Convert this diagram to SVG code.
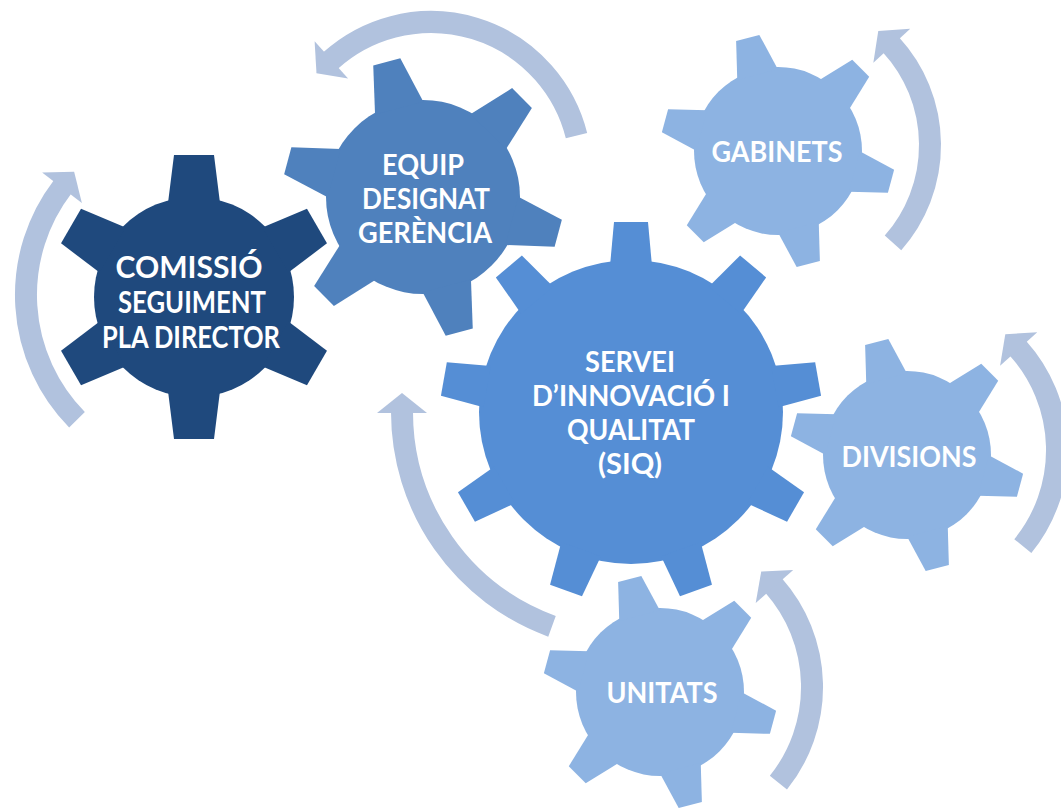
<svg xmlns="http://www.w3.org/2000/svg" xmlns:xlink="http://www.w3.org/1999/xlink" width="1061" height="810" viewBox="0 0 1061 810">
<style>
.arc{fill:none;stroke:#B1C2DE;stroke-width:22;stroke-linecap:butt;marker-end:url(#head)}
.lbl{font-family:Lato,"Open Sans","Liberation Sans",sans-serif;font-weight:700;fill:#FFFFFF;text-anchor:middle}
.big{font-size:31px}
.mid{font-size:28px}
.g-dark{fill:#1F497D}
.g-equip{fill:#4F81BD}
.g-siq{fill:#558ED5}
.g-light{fill:#8DB3E2}
</style>
<defs>
<marker id="head" markerUnits="userSpaceOnUse" markerWidth="30" markerHeight="60" refX="0" refY="0" orient="auto" overflow="visible">
<path d="M-1,-25 L19,0 L-1,25 Z" fill="#B1C2DE"/>
</marker>
<polygon id="tooth-c" points="-26,-94 -20,-142 20,-142 26,-94"/>
<polygon id="tooth-e" points="-25,-92 -14,-140 14,-140 25,-92"/>
<polygon id="tooth-s" points="-21,-79 -12,-117 12,-117 21,-79"/>
<polygon id="tooth-q" points="-21,-146 -17,-190 17,-190 21,-146"/>
</defs>
<rect width="1061" height="810" fill="#FFFFFF"/>

<g id="connectors">
<path class="arc" d="M77,419.8 A178,178 0 0 1 62.6,186.9"/>
<path class="arc" d="M576.5,135.7 A150,150 0 0 0 330.6,60.5"/>
<path class="arc" d="M893,242.9 A148,148 0 0 0 891.1,45"/>
<path class="arc" d="M1022.8,546.1 A152,152 0 0 0 1018,348.3"/>
<path class="arc" d="M552,626.3 A228,228 0 0 1 402,412"/>
<path class="arc" d="M778.4,782.7 A153,153 0 0 0 773.8,585.8"/>
</g>

<g id="comissio" class="g-dark">
<g transform="translate(194,297)">
<circle r="100"/>
<use xlink:href="#tooth-c" transform="rotate(0)"/>
<use xlink:href="#tooth-c" transform="rotate(60)"/>
<use xlink:href="#tooth-c" transform="rotate(120)"/>
<use xlink:href="#tooth-c" transform="rotate(180)"/>
<use xlink:href="#tooth-c" transform="rotate(240)"/>
<use xlink:href="#tooth-c" transform="rotate(300)"/>
</g>
<text class="lbl big" x="189" y="278" textLength="147" lengthAdjust="spacingAndGlyphs">COMISSIÓ</text>
<text class="lbl big" x="192" y="313" textLength="148" lengthAdjust="spacingAndGlyphs">SEGUIMENT</text>
<text class="lbl big" x="191" y="348" textLength="178" lengthAdjust="spacingAndGlyphs">PLA DIRECTOR</text>
</g>

<g id="equip" class="g-equip">
<g transform="translate(423,197)">
<circle r="97"/>
<use xlink:href="#tooth-e" transform="rotate(-15)"/>
<use xlink:href="#tooth-e" transform="rotate(45)"/>
<use xlink:href="#tooth-e" transform="rotate(105)"/>
<use xlink:href="#tooth-e" transform="rotate(165)"/>
<use xlink:href="#tooth-e" transform="rotate(225)"/>
<use xlink:href="#tooth-e" transform="rotate(285)"/>
</g>
<text class="lbl mid" x="423" y="175" textLength="82" lengthAdjust="spacingAndGlyphs">EQUIP</text>
<text class="lbl mid" x="426" y="209" textLength="128" lengthAdjust="spacingAndGlyphs">DESIGNAT</text>
<text class="lbl mid" x="425" y="243" textLength="134" lengthAdjust="spacingAndGlyphs">GERÈNCIA</text>
</g>

<g id="gabinets" class="g-light">
<g transform="translate(778,151)">
<circle r="84"/>
<use xlink:href="#tooth-s" transform="rotate(-15)"/>
<use xlink:href="#tooth-s" transform="rotate(45)"/>
<use xlink:href="#tooth-s" transform="rotate(105)"/>
<use xlink:href="#tooth-s" transform="rotate(165)"/>
<use xlink:href="#tooth-s" transform="rotate(225)"/>
<use xlink:href="#tooth-s" transform="rotate(285)"/>
</g>
<text class="lbl mid" x="777" y="162" textLength="131" lengthAdjust="spacingAndGlyphs">GABINETS</text>
</g>

<g id="divisions" class="g-light">
<g transform="translate(907,455)">
<circle r="84"/>
<use xlink:href="#tooth-s" transform="rotate(-15)"/>
<use xlink:href="#tooth-s" transform="rotate(45)"/>
<use xlink:href="#tooth-s" transform="rotate(105)"/>
<use xlink:href="#tooth-s" transform="rotate(165)"/>
<use xlink:href="#tooth-s" transform="rotate(225)"/>
<use xlink:href="#tooth-s" transform="rotate(285)"/>
</g>
<text class="lbl mid" x="909" y="467" textLength="135" lengthAdjust="spacingAndGlyphs">DIVISIONS</text>
</g>

<g id="unitats" class="g-light">
<g transform="translate(660,692)">
<circle r="84"/>
<use xlink:href="#tooth-s" transform="rotate(-15)"/>
<use xlink:href="#tooth-s" transform="rotate(45)"/>
<use xlink:href="#tooth-s" transform="rotate(105)"/>
<use xlink:href="#tooth-s" transform="rotate(165)"/>
<use xlink:href="#tooth-s" transform="rotate(225)"/>
<use xlink:href="#tooth-s" transform="rotate(285)"/>
</g>
<text class="lbl mid" x="662" y="703" textLength="111" lengthAdjust="spacingAndGlyphs">UNITATS</text>
</g>

<g id="siq" class="g-siq">
<g transform="translate(631,412)">
<circle r="152"/>
<use xlink:href="#tooth-q" transform="rotate(0)"/>
<use xlink:href="#tooth-q" transform="rotate(40)"/>
<use xlink:href="#tooth-q" transform="rotate(80)"/>
<use xlink:href="#tooth-q" transform="rotate(120)"/>
<use xlink:href="#tooth-q" transform="rotate(160)"/>
<use xlink:href="#tooth-q" transform="rotate(200)"/>
<use xlink:href="#tooth-q" transform="rotate(240)"/>
<use xlink:href="#tooth-q" transform="rotate(280)"/>
<use xlink:href="#tooth-q" transform="rotate(320)"/>
</g>
<text class="lbl mid" x="630" y="372" textLength="90" lengthAdjust="spacingAndGlyphs">SERVEI</text>
<text class="lbl mid" x="631" y="406" textLength="198" lengthAdjust="spacingAndGlyphs">D’INNOVACIÓ I</text>
<text class="lbl mid" x="631" y="440" textLength="128" lengthAdjust="spacingAndGlyphs">QUALITAT</text>
<text class="lbl mid" x="630" y="474" textLength="64" lengthAdjust="spacingAndGlyphs">(SIQ)</text>
</g>
</svg>
